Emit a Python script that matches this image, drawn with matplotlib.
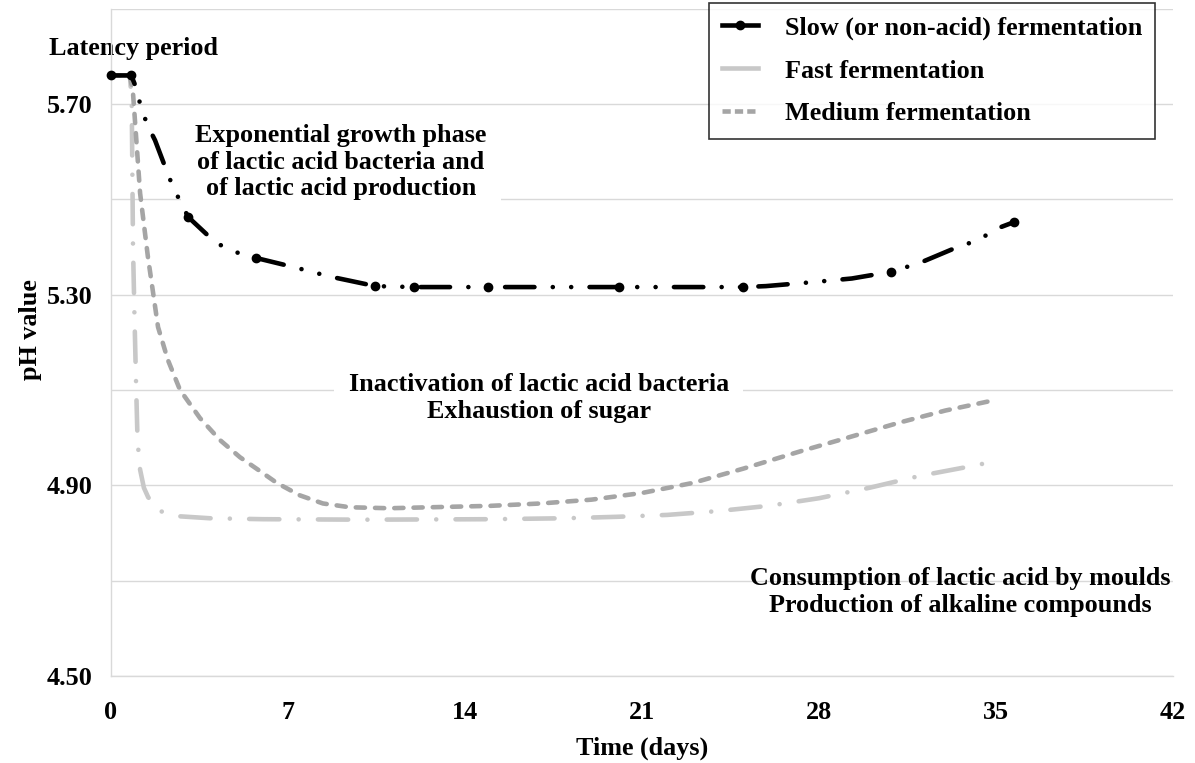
import matplotlib
matplotlib.use('Agg')
import matplotlib.pyplot as plt
from matplotlib.lines import Line2D

# values
slow_days = [0, 0.8, 0.95, 1.19, 1.43, 1.74, 2.22, 2.46, 3.05, 4.12, 4.7, 5.38, 5.74,
             7.37, 8.0, 8.75, 9.47, 10.45, 12.0, 14.9, 20.1, 25.0, 25.9, 27.9,
             29.3, 30.85, 32.0, 33.3, 34.3, 35.1, 35.7]
slow_ph = [5.76, 5.76, 5.74, 5.693, 5.657, 5.624, 5.557, 5.525, 5.463, 5.41, 5.394, 5.381, 5.377,
           5.356, 5.347, 5.337, 5.329, 5.318, 5.316, 5.316, 5.316, 5.316, 5.318, 5.327,
           5.334, 5.348, 5.367, 5.396, 5.415, 5.44, 5.452]
slow_marker_idx = [0, 1, 8, 12, 17, 18, 19, 20, 21, 25, 30]

fast_days = [0, 0.75, 0.82, 0.87, 0.93, 0.99, 1.04, 1.08, 1.15, 1.3, 1.47, 1.94, 2.73,
             3.9, 6.0, 10.0, 15.0, 18.0, 20.0, 22.0, 24.0, 26.0, 28.0, 30.0, 32.0, 34.0, 35.1]
fast_ph = [5.76, 5.76, 5.70, 5.40, 5.25, 5.115, 5.013, 4.975, 4.933, 4.895, 4.875, 4.846, 4.835,
           4.831, 4.829, 4.828, 4.829, 4.831, 4.834, 4.838, 4.846, 4.857, 4.873, 4.895, 4.920,
           4.940, 4.952]

medium_days = [0, 0.75, 0.87, 1.15, 1.46, 1.86, 2.25, 2.73, 3.52, 4.31, 5.1, 5.89, 6.56, 7.47,
               8.38, 9.45, 11.0, 15.0, 17.0, 19.0, 21.0, 23.0, 25.0, 27.3, 29.0, 31.2, 33.0, 35.05]
medium_ph = [5.76, 5.76, 5.723, 5.513, 5.379, 5.232, 5.163, 5.100, 5.041, 4.995, 4.959, 4.930,
             4.905, 4.879, 4.862, 4.854, 4.852, 4.857, 4.862, 4.870, 4.884, 4.905, 4.935, 4.972,
             4.998, 5.032, 5.057, 5.080]

x_ticks = [0, 7, 14, 21, 28, 35, 42]
y_ticks = [4.5, 4.7, 4.9, 5.1, 5.3, 5.5, 5.7, 5.9]
y_labels = ['4.50', '', '4.90', '', '5.30', '', '5.70', '']

labels = ['Slow (or non-acid) fermentation', 'Fast fermentation', 'Medium fermentation']

plt.rcParams['font.family'] = ['Liberation Serif', 'DejaVu Serif']
plt.rcParams['font.weight'] = 'bold'
FS = 18.8

fig = plt.figure(figsize=(11.95, 7.63), dpi=100)
ax = fig.add_axes([0.0929, 0.1140, 0.8887, 0.8746])

lw = 3.3
slow_col = 'black'
fast_col = '#c8c8c8'
med_col = '#a5a5a5'

ax.plot(fast_days, fast_ph, color=fast_col, lw=lw, dash_capstyle='round',
        linestyle=(0, (6.6, 4.2, 0.01, 4.2)), clip_on=False, zorder=3)
ax.plot(medium_days, medium_ph, color=med_col, lw=lw, dash_capstyle='round',
        linestyle=(0, (2.0, 2.2)), clip_on=False, zorder=4)
ax.plot(slow_days, slow_ph, color=slow_col, lw=lw, dash_capstyle='round',
        linestyle=(0, (6.4, 4.0, 0.01, 4.0, 0.01, 4.0)), clip_on=False, zorder=5,
        marker='o', markersize=6, markevery=slow_marker_idx)

ax.set_xlim(0, 42)
ax.set_ylim(4.5, 5.9)
ax.set_xticks(x_ticks)
ax.set_xticklabels([str(t) for t in x_ticks])
ax.set_yticks(y_ticks)
ax.set_yticklabels(y_labels)
ax.tick_params(axis='both', length=0, labelsize=FS)
ax.tick_params(axis='y', pad=13)
ax.tick_params(axis='x', pad=18)
ax.grid(axis='y', color='#d9d9d9', lw=1.0, zorder=0)
ax.set_axisbelow(True)
for side in ['top', 'right']:
    ax.spines[side].set_visible(False)
for side in ['left', 'bottom']:
    ax.spines[side].set_color('#d9d9d9')
    ax.spines[side].set_linewidth(1.0)

fig.text(30 / 1195, 1 - 330 / 763, 'pH value', rotation=90, ha='center', va='center',
         fontsize=FS, fontweight='bold')
fig.text(642 / 1195, 1 - 748 / 763, 'Time (days)', ha='center', va='center',
         fontsize=FS, fontweight='bold')

box = dict(facecolor='white', edgecolor='none', boxstyle='square,pad=0.55')
ax.text(0.89, 5.8175, 'Latency period', ha='center', va='center', fontsize=FS,
        fontweight='bold', zorder=2)
ax.text(9.1, 5.578, 'Exponential growth phase\nof lactic acid bacteria and\nof lactic acid production',
        ha='center', va='center', multialignment='center', fontsize=FS, fontweight='bold',
        bbox=box, zorder=2)
ax.text(16.92, 5.083, 'Inactivation of lactic acid bacteria\nExhaustion of sugar',
        ha='center', va='center', multialignment='center', fontsize=FS, fontweight='bold',
        bbox=box, zorder=2)
ax.text(33.6, 4.676, 'Consumption of lactic acid by moulds\nProduction of alkaline compounds',
        ha='center', va='center', multialignment='center', fontsize=FS, fontweight='bold',
        zorder=2)

handles = [
    Line2D([], [], color=slow_col, lw=lw, marker='o', markersize=6),
    Line2D([], [], color=fast_col, lw=lw),
    Line2D([], [], color=med_col, lw=lw, linestyle=(0, (1.8, 0.9)), dash_capstyle='butt'),
]
leg = fig.legend(handles, labels, loc='upper right', bbox_to_anchor=(1155 / 1195, 1 - 3 / 763),
                 fontsize=FS, frameon=True, fancybox=False, handlelength=1.4,
                 labelspacing=0.75, borderpad=0.5, handletextpad=1.0, borderaxespad=0)
leg.get_frame().set_edgecolor('black')
leg.get_frame().set_linewidth(1.2)

fig.savefig('out.png', dpi=100)
